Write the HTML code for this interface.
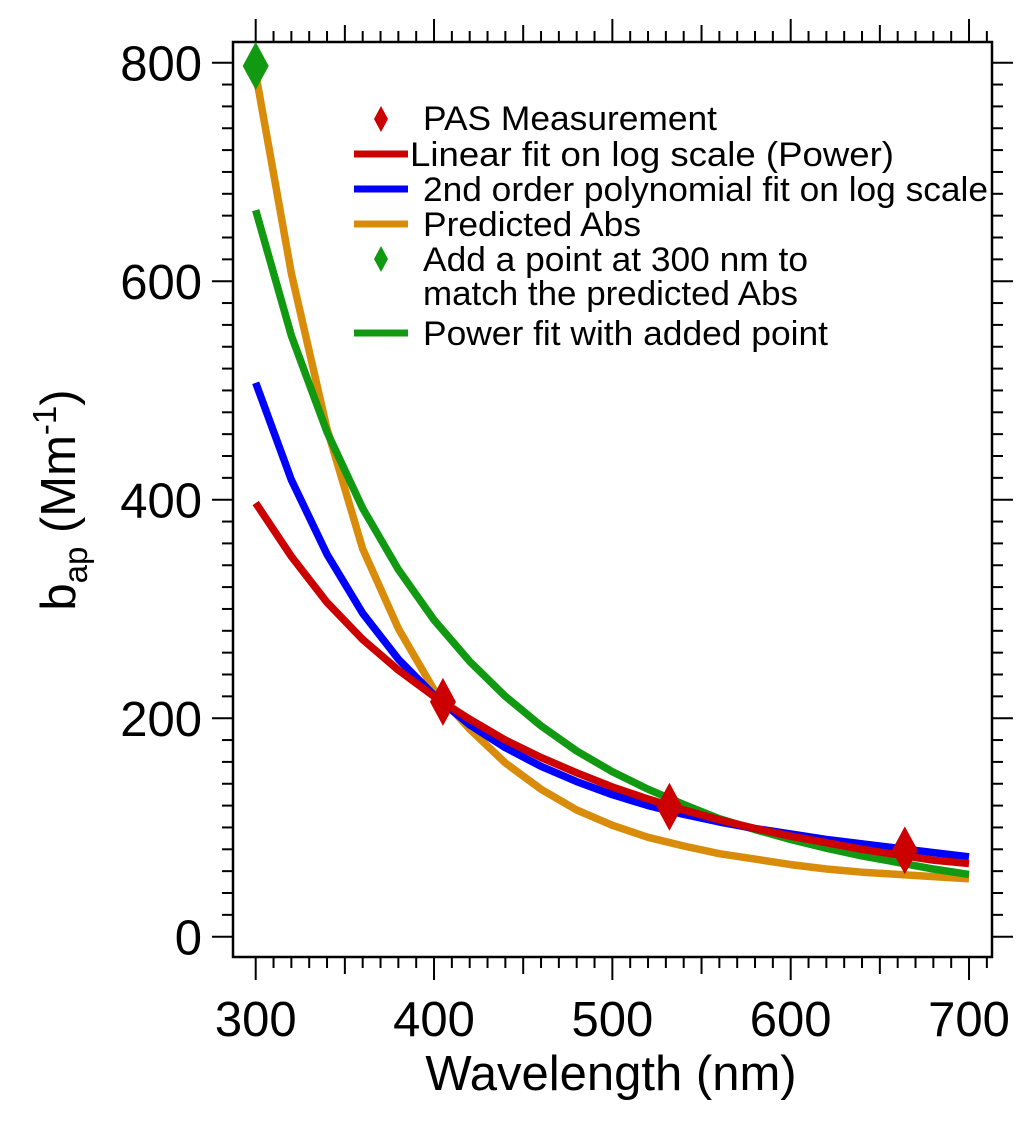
<!DOCTYPE html>
<html><head><meta charset="utf-8"><style>
body{margin:0;background:#fff}
svg text{font-family:"Liberation Sans",Arial,sans-serif;fill:#000}
</style></head><body>
<svg id="chart" width="1033" height="1118" viewBox="0 0 1033 1118" xmlns="http://www.w3.org/2000/svg">
<g id="axes"></g>
<g id="series"></g>
<g id="legend" font-size="34">
  <path d="M381 106 L388 119 L381 132 L374 119Z" fill="#cc0000"/>
  <text x="423" y="130" textLength="294" lengthAdjust="spacingAndGlyphs">PAS Measurement</text>
  <line x1="354" y1="154" x2="408" y2="154" stroke="#cc0000" stroke-width="7"/>
  <text x="410" y="166" textLength="484" lengthAdjust="spacingAndGlyphs">Linear fit on log scale (Power)</text>
  <line x1="354" y1="189" x2="408" y2="189" stroke="#0000ff" stroke-width="7"/>
  <text x="423" y="201" textLength="565" lengthAdjust="spacingAndGlyphs">2nd order polynomial fit on log scale</text>
  <line x1="354" y1="224" x2="408" y2="224" stroke="#d88c0a" stroke-width="7"/>
  <text x="423" y="236" textLength="218" lengthAdjust="spacingAndGlyphs">Predicted Abs</text>
  <path d="M381 246 L388 259 L381 272 L374 259Z" fill="#119911"/>
  <text x="423" y="271" textLength="385" lengthAdjust="spacingAndGlyphs">Add a point at 300 nm to</text>
  <text x="423" y="305" textLength="375" lengthAdjust="spacingAndGlyphs">match the predicted Abs</text>
  <line x1="354" y1="333" x2="408" y2="333" stroke="#119911" stroke-width="7"/>
  <text x="423" y="345" textLength="405" lengthAdjust="spacingAndGlyphs">Power fit with added point</text>
</g>
<text x="611" y="1090" font-size="49" text-anchor="middle">Wavelength (nm)</text>
<text transform="translate(75,500) rotate(-90)" font-size="49" text-anchor="middle">b<tspan font-size="33" dy="12">ap</tspan><tspan dy="-12"> (Mm</tspan><tspan font-size="33" dy="-19">-1</tspan><tspan dy="19">)</tspan></text>
</svg>
<script>
const wavelengths=[300,320,340,360,380,400,420,440,460,480,500,520,540,560,580,600,620,640,660,680,700];
const powerFit=[397,348,306,272,244,220,199,180,164,150,137,126,116,107,99,92,86,80,75,70,67];
const polyFit=[507,418,350,296,254,221,194,173,156,142,130,120,112,105,99,94,89,85,81,77,73];
const predictedAbs=[790,607,465,355,282,226,190,159,135,116,102,91,83,76,71,66,62,59,57,55,53];
const powerFitAdded=[665,550,462,392,336,290,252,220,193,170,151,135,121,108,98,89,81,74,68,62,57];
const pasX=[405,532,664];
const pasY=[215,119,79];
const addedX=[300];
const addedY=[797];
const xTicks=[300,400,500,600,700];
const yTicks=[0,200,400,600,800];
var NS="http://www.w3.org/2000/svg";
var L=233,R=992,T=42,B=957;
function sx(v){return 255.7+(v-300)*1.7833;}
function sy(v){return 936.7-v*1.0925;}
function mk(t,a,p){var e=document.createElementNS(NS,t);for(var k in a)e.setAttribute(k,a[k]);p.appendChild(e);return e;}
var ax=document.getElementById('axes');
var fr=mk('rect',{x:L,y:T,width:R-L,height:B-T,fill:'none',stroke:'#000','stroke-width':2.5},ax);


for(var v=300;v<=710;v+=10){
  var x=sx(v);if(x<L||x>R)continue;
  var len=v%100===0?23:(v%50===0?17:11);
  var t1=mk('line',{x1:x,y1:B,x2:x,y2:B+len,stroke:'#000','stroke-width':2},ax);
  
  
  var t2=mk('line',{x1:x,y1:T,x2:x,y2:T-len,stroke:'#000','stroke-width':2},ax);
  
  
}
for(var w=0;w<=800;w+=20){
  var y=sy(w);
  var ln=w%200===0?21:11;
  var u1=mk('line',{x1:L,y1:y,x2:L-ln,y2:y,stroke:'#000','stroke-width':2},ax);
  
  
  var u2=mk('line',{x1:R,y1:y,x2:R+ln,y2:y,stroke:'#000','stroke-width':2},ax);
  
  
}
xTicks.forEach(function(v){var t=mk('text',{x:sx(v),y:1036,'font-size':49,'text-anchor':'middle'},ax);t.textContent=v;
  
  });
yTicks.forEach(function(v){var t=mk('text',{x:202,y:sy(v)+18,'font-size':49,'text-anchor':'end'},ax);t.textContent=v;
  
  });
var sg=document.getElementById('series');
function line(ys,color,name){
  var d=wavelengths.map(function(w,i){return (i?'L':'M')+sx(w).toFixed(1)+' '+sy(ys[i]).toFixed(1);}).join(' ');
  var p=mk('path',{d:d,fill:'none',stroke:color,'stroke-width':7.5,'stroke-linejoin':'round'},sg);
  
  
}
line(predictedAbs,'#d88c0a','predicted-abs-line');
line(powerFitAdded,'#119911','power-fit-added-line');
line(polyFit,'#0000ff','poly-fit-line');
line(powerFit,'#cc0000','power-fit-line');
function dia(xv,yv,color,name){
  var x=sx(xv),y=sy(yv);
  var p=mk('path',{d:'M'+x+' '+(y-24)+' L'+(x+13)+' '+y+' L'+x+' '+(y+24)+' L'+(x-13)+' '+y+'Z',fill:color},sg);
  
  
}
pasX.forEach(function(x,i){dia(x,pasY[i],'#cc0000','pas-point');});
addedX.forEach(function(x,i){dia(x,addedY[i],'#119911','added-point');});
</script>
</body></html>
